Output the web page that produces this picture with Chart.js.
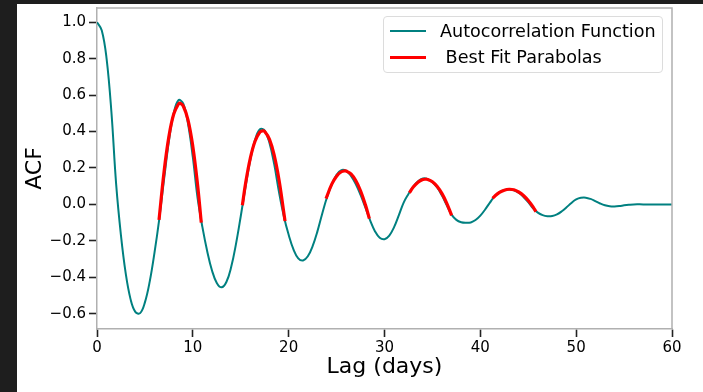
<!DOCTYPE html>
<html lang="en">
<head>
  <meta charset="UTF-8">
  <meta name="viewport" content="width=device-width, initial-scale=1.0">
  <title>ACF with fitted parabolas</title>
  <script src="https://cdn.jsdelivr.net/npm/chart.js"></script>
  <style>
    html, body { margin: 0; padding: 0; background: #1e1e1e; width: 703px; height: 392px; overflow: hidden; }
    #panel { position: absolute; left: 17px; top: 4px; width: 686px; height: 388px; background: #fff; }
    #acfChart { position: absolute; left: 0; top: 0; }
    #legend {
      position: absolute; left: 366px; top: 12px; width: 278px; height: 55px;
      border: 1px solid #dcdcdc; border-radius: 4px; background: rgba(255, 255, 255, 0.8);
      font-family: "DejaVu Sans", sans-serif; font-size: 17.6px; color: #000;
    }
    .row { position: absolute; left: 0; height: 26px; display: flex; align-items: center; white-space: pre; }
    .swatch { display: inline-block; width: 36px; margin-left: 6px; margin-right: 14px; }
  </style>
</head>
<body>
  <div id="panel">
    <canvas id="acfChart" width="686" height="388"></canvas>
    <div id="legend">
      <div class="row" style="top:1px"><span class="swatch" style="height:2px;background:#008080"></span>Autocorrelation Function</div>
      <div class="row" style="top:27px"><span class="swatch" style="height:3px;background:#ff0000"></span> Best Fit Parabolas</div>
    </div>
  </div>

  <script>
    // lag in days and the autocorrelation at each lag
    const lagDays = [
      0, 0.5, 1, 1.5, 2, 2.5, 3, 3.5, 4, 4.5, 5, 5.5, 6, 6.5, 7, 7.5, 8, 8.5, 9, 9.5,
      10, 10.5, 11, 11.5, 12, 12.5, 13, 13.5, 14, 14.5, 15, 15.5, 16, 16.5, 17, 17.5, 18, 18.5, 19, 19.5,
      20, 20.5, 21, 21.5, 22, 22.5, 23, 23.5, 24, 24.5, 25, 25.5, 26, 26.5, 27, 27.5, 28, 28.5, 29, 29.5,
      30, 30.5, 31, 31.5, 32, 32.5, 33, 33.5, 34, 34.5, 35, 35.5, 36, 36.5, 37, 37.5, 38, 38.5, 39, 39.5,
      40, 40.5, 41, 41.5, 42, 42.5, 43, 43.5, 44, 44.5, 45, 45.5, 46, 46.5, 47, 47.5, 48, 48.5, 49, 49.5,
      50, 50.5, 51, 51.5, 52, 52.5, 53, 53.5, 54, 54.5, 55, 55.5, 56, 57, 58, 59, 60
    ];
    const acfValues = [
      1.00, 0.955, 0.80, 0.51, 0.11, -0.17, -0.38, -0.52, -0.59, -0.597, -0.538, -0.424, -0.265, -0.079, 0.138, 0.346, 0.499, 0.572, 0.553, 0.442,
      0.259, 0.033, -0.125, -0.257, -0.363, -0.431, -0.455, -0.426, -0.344, -0.218, -0.065, 0.097, 0.245, 0.356, 0.412, 0.405, 0.337, 0.218, 0.065, -0.066,
      -0.167, -0.247, -0.296, -0.308, -0.285, -0.229, -0.148, -0.051, 0.039, 0.110, 0.163, 0.188, 0.184, 0.157, 0.112, 0.052, -0.017, -0.088, -0.147, -0.183,
      -0.191, -0.171, -0.125, -0.059, 0.010, 0.057, 0.098, 0.127, 0.142, 0.139, 0.122, 0.093, 0.048, -0.005, -0.056, -0.085, -0.098, -0.101, -0.099, -0.086,
      -0.062, -0.028, 0.010, 0.045, 0.067, 0.079, 0.082, 0.078, 0.064, 0.041, 0.012, -0.021, -0.045, -0.059, -0.065, -0.064, -0.055, -0.038, -0.016, 0.008,
      0.027, 0.036, 0.037, 0.030, 0.018, 0.005, -0.005, -0.010, -0.011, -0.009, -0.005, -0.002, 0, 0, 0, 0, 0
    ];

    // parabolas fitted around each ACF peak
    const fit1Lag = [6.47, 7.0, 7.5, 8.0, 8.5, 8.67, 9.0, 9.5, 10.0, 10.5, 10.88];
    const fit1Acf = [-0.085, 0.181, 0.372, 0.495, 0.551, 0.555, 0.540, 0.463, 0.318, 0.106, -0.100];
    const fit2Lag = [15.17, 15.5, 16.0, 16.5, 17.0, 17.28, 17.5, 18.0, 18.5, 19.0, 19.5, 19.62];
    const fit2Acf = [-0.005, 0.114, 0.254, 0.348, 0.397, 0.404, 0.400, 0.357, 0.268, 0.133, -0.047, -0.092];
    const fit3Lag = [23.9, 24.5, 25.0, 25.5, 25.85, 26.0, 26.5, 27.0, 27.5, 28.0, 28.42];
    const fit3Acf = [0.032, 0.111, 0.155, 0.179, 0.184, 0.183, 0.167, 0.131, 0.075, -0.001, -0.078];
    const fit4Lag = [32.6, 33.0, 33.5, 34.0, 34.27, 34.5, 35.0, 35.5, 36.0, 36.5, 37.0];
    const fit4Acf = [0.064, 0.095, 0.122, 0.136, 0.138, 0.137, 0.124, 0.098, 0.059, 0.006, -0.060];
    const fit5Lag = [41.28, 41.5, 42.0, 42.5, 43.0, 43.5, 44.0, 44.5, 45.0, 45.5, 45.8];
    const fit5Acf = [0.033, 0.045, 0.066, 0.078, 0.083, 0.080, 0.068, 0.049, 0.021, -0.014, -0.040];

    const xTicks = [0, 10, 20, 30, 40, 50, 60];
    const yTicks = [-0.6, -0.4, -0.2, 0.0, 0.2, 0.4, 0.6, 0.8, 1.0];

    const acfPoints = lagDays.map((x, i) => ({ x: x, y: acfValues[i] }));

    // all fits in one dataset, broken apart by null points
    const fitPoints = [];
    [[fit1Lag, fit1Acf], [fit2Lag, fit2Acf], [fit3Lag, fit3Acf], [fit4Lag, fit4Acf], [fit5Lag, fit5Acf]].forEach(([xs, ys]) => {
      xs.forEach((x, i) => fitPoints.push({ x: x, y: ys[i] }));
      fitPoints.push({ x: xs[xs.length - 1], y: null });
    });

    const fmt = v => (v < 0 ? '\u2212' : '') + Math.abs(v).toFixed(1);
    const tickFont = { family: 'DejaVu Sans', size: 15 };
    const titleFont = { family: 'DejaVu Sans', size: 22 };

    // gray top and right spines
    const frame = {
      id: 'frame',
      afterDatasetsDraw(chart) {
        const { ctx, chartArea: a } = chart;
        ctx.save();
        ctx.strokeStyle = '#b0b0b0';
        ctx.lineWidth = 1.5;
        ctx.beginPath();
        ctx.moveTo(a.left, a.top);
        ctx.lineTo(a.right, a.top);
        ctx.lineTo(a.right, a.bottom);
        ctx.stroke();
        ctx.restore();
      }
    };

    new Chart(document.getElementById('acfChart'), {
      type: 'line',
      data: {
        datasets: [
          {
            label: 'Best Fit Parabolas',
            data: fitPoints,
            borderColor: '#ff0000',
            borderWidth: 3.2,
            borderCapStyle: 'butt',
            pointRadius: 0,
            spanGaps: false,
            tension: 0.4,
            order: 0
          },
          {
            label: 'Autocorrelation Function',
            data: acfPoints,
            borderColor: '#008080',
            borderWidth: 2,
            pointRadius: 0,
            tension: 0.4,
            order: 1
          }
        ]
      },
      options: {
        responsive: false,
        animation: false,
        events: [],
        layout: { padding: { top: 4, right: 31, left: 0, bottom: 0 } },
        plugins: { legend: { display: false }, tooltip: { enabled: false } },
        scales: {
          x: {
            type: 'linear',
            min: 0,
            max: 60,
            afterFit: s => { s.height = 63; s.paddingLeft = 0; s.paddingRight = 0; },
            afterBuildTicks: s => { s.ticks = xTicks.map(v => ({ value: v })); },
            ticks: { font: tickFont, color: '#000', padding: 2, maxRotation: 0 },
            grid: { drawOnChartArea: false, drawTicks: true, tickLength: 8, tickWidth: 1.6, tickColor: '#222' },
            border: { color: '#b0b0b0', width: 1.5 },
            title: { display: true, text: 'Lag (days)', font: titleFont, color: '#000', padding: { bottom: 12 } }
          },
          y: {
            type: 'linear',
            min: -0.684,
            max: 1.078,
            afterFit: s => { s.width = 80; s.paddingTop = 0; s.paddingBottom = 0; },
            afterBuildTicks: s => { s.ticks = yTicks.map(v => ({ value: v })); },
            ticks: { font: tickFont, color: '#000', padding: 3, callback: fmt },
            grid: { drawOnChartArea: false, drawTicks: true, tickLength: 8, tickWidth: 1.6, tickColor: '#222' },
            border: { color: '#b0b0b0', width: 1.5 },
            title: { display: true, text: 'ACF', font: titleFont, color: '#000', padding: { top: 5 } }
          }
        }
      },
      plugins: [frame]
    });
  </script>
</body>
</html>
